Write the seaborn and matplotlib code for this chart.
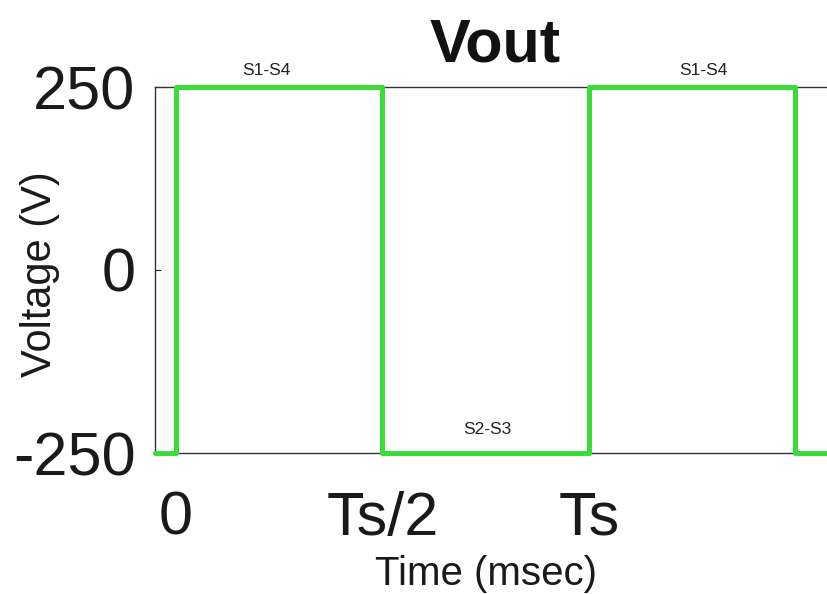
import numpy as np
import pandas as pd
import matplotlib
matplotlib.use("Agg")
import matplotlib.pyplot as plt
import seaborn as sns

# Switching instants (in units of the period Ts) and output levels between them
switch_times = [0.0, 0.5, 1.0, 1.5]
levels = [-250, 250, -250, 250, -250]
t_range = [-0.0508, 1.65]

# Conduction-state labels: (text, time in Ts, voltage)
state_labels = ["S1-S4", "S2-S3", "S1-S4"]
state_t = [0.22, 0.753, 1.278]
state_v = [273, -218, 273]

x_ticks = [0.0, 0.5, 1.0]
x_ticklabels = ["0", "Ts/2", "Ts"]
y_ticks = [-250, 0, 250]
y_ticklabels = ["-250", "0", "250"]

# Build the square-wave vertices from the switching instants
t = [t_range[0]]
v = [levels[0]]
for i, ts in enumerate(switch_times):
    t += [ts, ts]
    v += [levels[i], levels[i + 1]]
t.append(t_range[1])
v.append(levels[-1])
df = pd.DataFrame({"t": t, "v": v, "order": np.arange(len(t))})

sns.set_style("white")
plt.rcParams["font.family"] = ["Liberation Sans", "DejaVu Sans"]

fig = plt.figure(figsize=(8.27, 5.94), dpi=100)
ax = fig.add_axes([155 / 827, (594 - 453) / 594, (835 - 155) / 827, (453 - 87) / 594])

sns.lineplot(data=df, x="t", y="v", estimator=None, sort=False,
             color="#38dd38", linewidth=3.6, ax=ax, clip_on=False, zorder=5)

ax.set_xlim(t_range[0], (835 - 176) / 413)
ax.set_ylim(-250, 250)

ax.set_xticks(x_ticks)
ax.set_xticklabels(x_ticklabels)
ax.set_yticks(y_ticks)
ax.set_yticklabels(y_ticklabels)
ax.tick_params(axis="both", direction="in", length=4, width=0.8, colors="#222222",
               labelsize=44, labelcolor="#1a1a1a")
ax.tick_params(axis="x", pad=27, bottom=True)
ax.tick_params(axis="y", pad=14, left=True)

for side in ["top", "left", "bottom", "right"]:
    ax.spines[side].set_color("#333333")
    ax.spines[side].set_linewidth(1.0)

ax.set_title("Vout", fontsize=44, fontweight="bold", pad=18, color="#111111")
ax.set_xlabel("Time (msec)", fontsize=29, color="#1a1a1a")
ax.set_ylabel("Voltage (V)", fontsize=30, color="#1a1a1a")
ax.xaxis.set_label_coords((486 - 155) / (835 - 155), -0.28)
ax.yaxis.set_label_coords(-(155 - 60) / (835 - 155), 0.49)

for label, ts, vv in zip(state_labels, state_t, state_v):
    ax.text(ts, vv, label, fontsize=12.5, ha="center", va="center", color="#222222",
            clip_on=False)

fig.savefig("out.png", dpi=100)
